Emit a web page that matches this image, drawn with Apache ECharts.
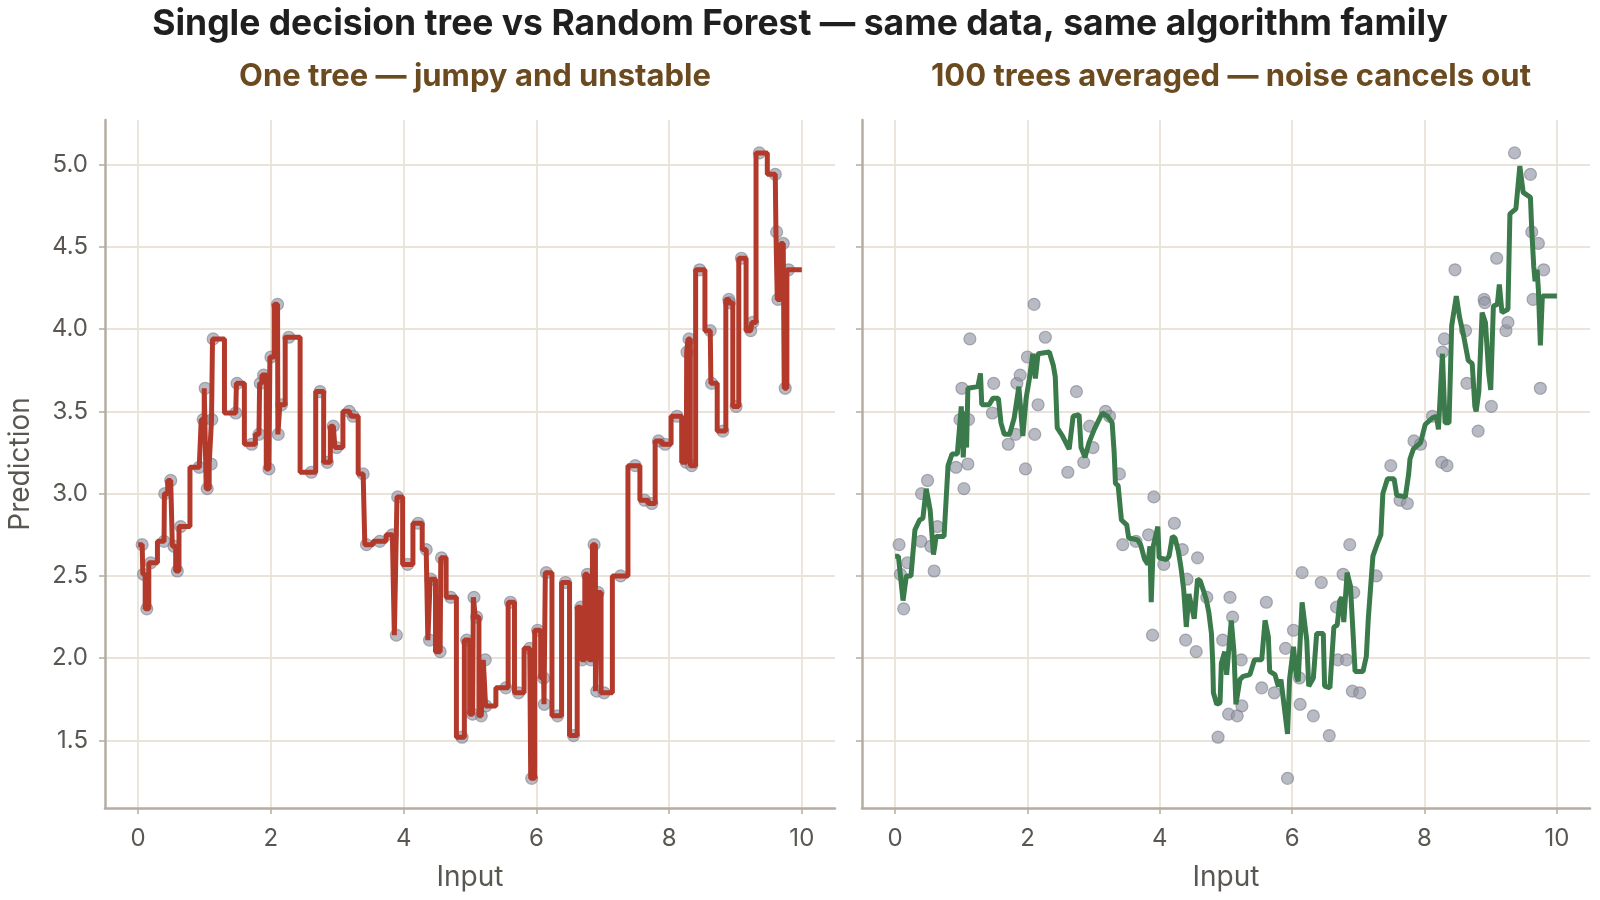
<!DOCTYPE html>
<html>
<head>
<meta charset="utf-8">
<title>Decision tree vs Random Forest</title>
<script src="https://cdn.jsdelivr.net/npm/echarts@6/dist/echarts.min.js"></script>
<style>
  html, body { margin: 0; padding: 0; background: #ffffff; }
  #chart { width: 1600px; height: 900px; }
</style>
</head>
<body>
<div id="chart"></div>
<script>
// noisy samples (same in both panels)
const pointX = [0.06, 0.08, 0.13, 0.19, 0.39, 0.40, 0.49, 0.54, 0.59, 0.64,
  0.92, 0.98, 1.01, 1.04, 1.10, 1.11, 1.13, 1.47, 1.49, 1.71,
  1.82, 1.84, 1.89, 1.97, 2.00, 2.10, 2.11, 2.16, 2.27, 2.61,
  2.74, 2.85, 2.94, 2.99, 3.18, 3.24, 3.39, 3.44, 3.64, 3.83,
  3.89, 3.91, 4.06, 4.22, 4.34, 4.39, 4.41, 4.55, 4.57, 4.71,
  4.88, 4.95, 5.04, 5.06, 5.10, 5.17, 5.23, 5.24, 5.54, 5.61,
  5.73, 5.90, 5.93, 6.02, 6.11, 6.12, 6.15, 6.32, 6.44, 6.56,
  6.67, 6.69, 6.77, 6.82, 6.87, 6.91, 6.93, 7.02, 7.27, 7.49,
  7.63, 7.74, 7.84, 7.94, 8.12, 8.26, 8.27, 8.30, 8.34, 8.46,
  8.62, 8.64, 8.81, 8.90, 8.91, 9.01, 9.09, 9.23, 9.26, 9.36,
  9.60, 9.62, 9.64, 9.72, 9.75, 9.80];
const pointY = [2.69, 2.51, 2.30, 2.58, 2.71, 3.00, 3.08, 2.68, 2.53, 2.80,
  3.16, 3.45, 3.64, 3.03, 3.18, 3.45, 3.94, 3.49, 3.67, 3.30,
  3.36, 3.67, 3.72, 3.15, 3.83, 4.15, 3.36, 3.54, 3.95, 3.13,
  3.62, 3.19, 3.41, 3.28, 3.50, 3.47, 3.12, 2.69, 2.71, 2.75,
  2.14, 2.98, 2.57, 2.82, 2.66, 2.11, 2.48, 2.04, 2.61, 2.37,
  1.52, 2.11, 1.66, 2.37, 2.25, 1.65, 1.99, 1.71, 1.82, 2.34,
  1.79, 2.06, 1.27, 2.17, 1.88, 1.72, 2.52, 1.65, 2.46, 1.53,
  2.31, 1.99, 2.51, 1.99, 2.69, 1.80, 2.40, 1.79, 2.50, 3.17,
  2.96, 2.94, 3.32, 3.30, 3.47, 3.19, 3.86, 3.94, 3.17, 4.36,
  3.99, 3.67, 3.38, 4.18, 4.16, 3.53, 4.43, 3.99, 4.04, 5.07,
  4.94, 4.59, 4.18, 4.52, 3.64, 4.36];

// random forest (100 trees) prediction curve
const forestX = [0.00, 0.05, 0.12, 0.17, 0.24, 0.30, 0.37, 0.42, 0.47, 0.53,
  0.58, 0.62, 0.74, 0.80, 0.86, 0.94, 1.00, 1.03, 1.06, 1.08,
  1.10, 1.25, 1.29, 1.31, 1.42, 1.48, 1.56, 1.60, 1.65, 1.73,
  1.80, 1.87, 1.93, 1.98, 2.03, 2.08, 2.12, 2.16, 2.33, 2.39,
  2.42, 2.45, 2.53, 2.63, 2.69, 2.78, 2.81, 2.87, 2.93, 3.01,
  3.13, 3.21, 3.28, 3.31, 3.33, 3.37, 3.42, 3.50, 3.53, 3.66,
  3.71, 3.77, 3.82, 3.85, 3.87, 3.90, 3.97, 3.99, 4.10, 4.14,
  4.19, 4.23, 4.28, 4.32, 4.36, 4.40, 4.44, 4.47, 4.52, 4.54,
  4.57, 4.61, 4.66, 4.70, 4.74, 4.78, 4.80, 4.81, 4.86, 4.91,
  4.93, 4.98, 5.01, 5.05, 5.08, 5.12, 5.15, 5.21, 5.26, 5.36,
  5.43, 5.54, 5.59, 5.64, 5.66, 5.74, 5.79, 5.83, 5.86, 5.93,
  5.96, 6.02, 6.06, 6.09, 6.15, 6.22, 6.25, 6.32, 6.37, 6.47,
  6.49, 6.57, 6.63, 6.68, 6.72, 6.75, 6.78, 6.83, 6.88, 6.92,
  6.95, 7.07, 7.12, 7.15, 7.22, 7.29, 7.34, 7.37, 7.44, 7.54,
  7.58, 7.71, 7.76, 7.78, 7.83, 7.94, 8.01, 8.12, 8.18, 8.21,
  8.27, 8.31, 8.37, 8.41, 8.48, 8.53, 8.59, 8.66, 8.72, 8.76,
  8.78, 8.82, 8.87, 8.92, 8.97, 9.00, 9.04, 9.10, 9.13, 9.17,
  9.26, 9.29, 9.38, 9.44, 9.49, 9.60, 9.62, 9.65, 9.67, 9.70,
  9.72, 9.75, 9.78, 10.00];
const forestY = [2.62, 2.62, 2.35, 2.50, 2.50, 2.78, 2.84, 2.85, 3.03, 2.90,
  2.63, 2.74, 2.74, 3.17, 3.24, 3.24, 3.53, 3.22, 3.50, 3.28,
  3.64, 3.65, 3.73, 3.54, 3.54, 3.58, 3.58, 3.43, 3.36, 3.36,
  3.46, 3.65, 3.35, 3.58, 3.70, 3.85, 3.70, 3.85, 3.86, 3.78,
  3.71, 3.40, 3.35, 3.27, 3.47, 3.48, 3.28, 3.22, 3.31, 3.39,
  3.49, 3.47, 3.43, 3.25, 3.06, 3.05, 2.84, 2.81, 2.73, 2.72,
  2.69, 2.60, 2.57, 2.68, 2.34, 2.68, 2.80, 2.61, 2.60, 2.62,
  2.74, 2.73, 2.65, 2.55, 2.42, 2.19, 2.39, 2.40, 2.24, 2.23,
  2.48, 2.47, 2.41, 2.36, 2.28, 2.15, 1.97, 1.79, 1.72, 1.73,
  1.97, 2.04, 1.90, 2.09, 2.23, 2.04, 1.72, 1.87, 1.89, 1.90,
  1.99, 1.99, 2.23, 2.13, 1.92, 1.90, 1.83, 1.87, 1.86, 1.54,
  1.87, 2.07, 1.90, 1.86, 2.34, 2.11, 1.83, 1.88, 2.15, 2.15,
  1.83, 1.82, 2.19, 2.20, 2.35, 2.37, 2.22, 2.52, 2.44, 2.15,
  1.92, 1.92, 2.01, 2.24, 2.62, 2.70, 2.75, 3.00, 3.09, 3.09,
  2.99, 2.98, 3.12, 3.21, 3.27, 3.31, 3.42, 3.46, 3.47, 3.39,
  3.85, 3.43, 3.43, 4.02, 4.20, 4.07, 3.96, 3.81, 3.79, 3.53,
  3.50, 3.62, 4.10, 4.04, 3.73, 3.63, 4.14, 4.15, 4.27, 4.10,
  4.12, 4.70, 4.73, 4.99, 4.83, 4.80, 4.60, 4.38, 4.29, 4.36,
  4.24, 3.90, 4.20, 4.20];

const xTicks = [0, 2, 4, 6, 8, 10];
const yTicks = [1.5, 2.0, 2.5, 3.0, 3.5, 4.0, 4.5, 5.0];

const FONT = 'Inter, "Noto Sans", sans-serif';
const AXIS_COLOR = '#b5aca2';
const GRID_COLOR = '#e9e3d9';
const LABEL_COLOR = '#5a5652';

const points = pointX.map((x, i) => [x, pointY[i]]);
// a fully grown tree predicts each sample's value up to the midpoint between neighbours
const treeLine = [[0, pointY[0]]].concat(points, [[10, pointY[pointY.length - 1]]]);
const forestLine = forestX.map((x, i) => [x, forestY[i]]);

function makeXAxis(gridIndex) {
  return {
    type: 'value', gridIndex: gridIndex, min: -0.5, max: 10.5,
    name: 'Input', nameLocation: 'middle', nameGap: 56,
    nameTextStyle: { fontFamily: FONT, fontSize: 28, color: LABEL_COLOR },
    axisLine: { show: true, onZero: false, lineStyle: { color: AXIS_COLOR, width: 2.5 } },
    axisTick: { show: true, length: 6, customValues: xTicks, lineStyle: { color: AXIS_COLOR, width: 1.5 } },
    axisLabel: { customValues: xTicks, margin: 19, fontFamily: FONT, fontSize: 24, color: LABEL_COLOR },
    splitLine: { show: true, lineStyle: { color: GRID_COLOR, width: 1.8 } }
  };
}

function makeYAxis(gridIndex, withLabels) {
  return {
    type: 'value', gridIndex: gridIndex, min: 1.09, max: 5.27,
    name: withLabels ? 'Prediction' : '', nameLocation: 'middle', nameGap: 70,
    nameTextStyle: { fontFamily: FONT, fontSize: 28, color: LABEL_COLOR },
    axisLine: { show: true, onZero: false, lineStyle: { color: AXIS_COLOR, width: 2.5 } },
    axisTick: { show: true, length: 6, customValues: yTicks, lineStyle: { color: AXIS_COLOR, width: 1.5 } },
    axisLabel: {
      show: withLabels, customValues: yTicks, margin: 17,
      formatter: v => v.toFixed(1),
      fontFamily: FONT, fontSize: 24, color: LABEL_COLOR
    },
    splitLine: { show: true, lineStyle: { color: GRID_COLOR, width: 1.8 } }
  };
}

const pointStyle = { color: 'rgba(146, 148, 162, 0.8)', borderColor: 'rgba(118, 120, 134, 0.7)', borderWidth: 1.2 };

const chart = echarts.init(document.getElementById('chart'));
chart.setOption({
  animation: false,
  backgroundColor: '#ffffff',
  title: [
    {
      text: 'Single decision tree vs Random Forest — same data, same algorithm family',
      left: 'center', top: 1,
      textStyle: { fontFamily: FONT, fontWeight: 'bold', fontSize: 35.5, color: '#1f1f1f' }
    },
    {
      text: 'One tree — jumpy and unstable',
      left: 470, textAlign: 'center', top: 56,
      textStyle: { fontFamily: FONT, fontWeight: 'bold', fontSize: 31, color: '#6b4a1f' }
    },
    {
      text: '100 trees averaged — noise cancels out',
      left: 1226, textAlign: 'center', top: 56,
      textStyle: { fontFamily: FONT, fontWeight: 'bold', fontSize: 31, color: '#6b4a1f' }
    }
  ],
  grid: [
    { left: 105, top: 120, width: 730, height: 688 },
    { left: 862, top: 120, width: 728, height: 688 }
  ],
  xAxis: [makeXAxis(0), makeXAxis(1)],
  yAxis: [makeYAxis(0, true), makeYAxis(1, false)],
  series: [
    {
      name: 'samples', type: 'scatter', xAxisIndex: 0, yAxisIndex: 0,
      data: points, symbolSize: 12, itemStyle: pointStyle, z: 2
    },
    {
      name: 'single tree', type: 'line', xAxisIndex: 0, yAxisIndex: 0,
      data: treeLine, step: 'middle', showSymbol: false,
      lineStyle: { color: '#b3392b', width: 5 }, z: 3
    },
    {
      name: 'samples', type: 'scatter', xAxisIndex: 1, yAxisIndex: 1,
      data: points, symbolSize: 12, itemStyle: pointStyle, z: 2
    },
    {
      name: 'random forest', type: 'line', xAxisIndex: 1, yAxisIndex: 1,
      data: forestLine, showSymbol: false,
      lineStyle: { color: '#3b7a4b', width: 5 }, z: 3
    }
  ]
});
</script>
</body>
</html>
